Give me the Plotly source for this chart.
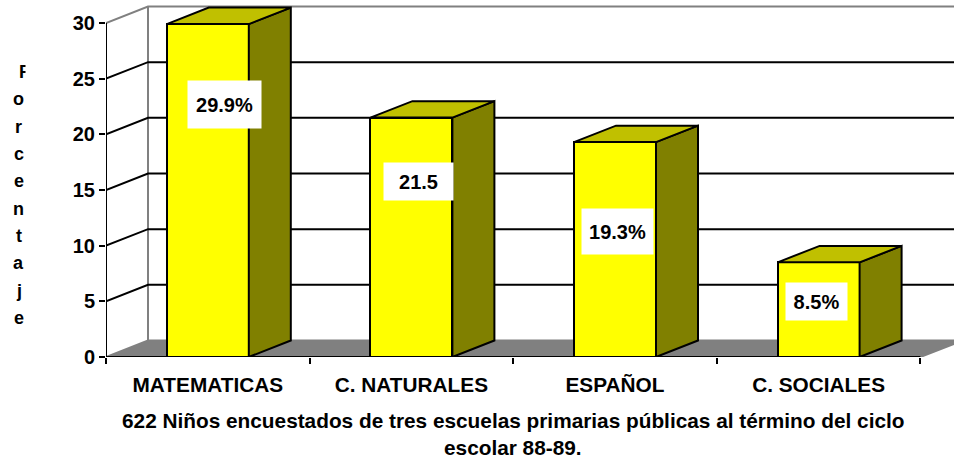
import plotly.graph_objects as go

categories = ["MATEMATICAS", "C. NATURALES", "ESPAÑOL", "C. SOCIALES"]
values = [29.9, 21.5, 19.3, 8.5]
value_labels = ["29.9%", "21.5", "19.3%", "8.5%"]
y_ticks = [0, 5, 10, 15, 20, 25, 30]
y_title_letters = list("Porcentaje")
title_lines = ["622 Niños encuestados de tres escuelas primarias públicas al término del ciclo",
               "escolar 88-89."]

# white label boxes in page pixels (left, top, right, bottom)
LABEL_BOXES = [(188, 81, 261, 128), (384, 163, 453, 200), (582, 209, 653, 254), (786, 283, 847, 320)]

W, H = 954, 459
ML, MB = 106, 101.5
PX_CAT = 203.6
PX_UNIT = 11.15
DX = 42 / PX_CAT
DY = 16.5 / PX_UNIT
BAR_W = 82 / PX_CAT
FS = 20
FS_WIDE = 20.8
FONT = "Liberation Sans"
n = len(categories)
xs = list(range(n))
xl, xr = -0.5, n - 0.5
range_x = [xl, xl + (W - ML) / PX_CAT]
plot_h = H - MB
range_y = [0, plot_h / PX_UNIT]

fig = go.Figure()
shapes = []

def path(px, py, close=False):
    d = "M " + " L ".join(f"{a} {b}" for a, b in zip(px, py))
    return d + (" Z" if close else "")

def back_poly(px, py, fill, line, lw=2):
    shapes.append(dict(type="path", path=path(px, py, True), xref="x", yref="y", layer="below",
                       fillcolor=fill, line=dict(color=line, width=lw)))

def back_seg(px, py, color, lw=2):
    shapes.append(dict(type="path", path=path(px, py), xref="x", yref="y", layer="below",
                       line=dict(color=color, width=lw)))

def poly(px, py, fill, line="black", lw=2):
    fig.add_trace(go.Scatter(x=px, y=py, mode="lines", fill="toself", fillcolor=fill,
                             line=dict(color=line, width=lw), hoverinfo="skip", showlegend=False))

def seg(px, py, color="black", lw=2):
    fig.add_trace(go.Scatter(x=px, y=py, mode="lines", line=dict(color=color, width=lw),
                             hoverinfo="skip", showlegend=False, cliponaxis=False))

# floor, back wall edge and gridlines sit behind the bars
back_poly([xl, xr, xr + DX, xl + DX], [0, 0, DY, DY], "#808080", "#808080")
back_seg([xl + DX, xl + DX], [DY, max(y_ticks) + DY], "#808080")
for t in y_ticks[1:]:
    c = "#808080" if t == max(y_ticks) else "black"
    back_seg([xl, xl + DX, range_x[1]], [t, t + DY, t + DY], c)

# bars
fig.add_trace(go.Bar(x=xs, y=values, width=BAR_W, marker=dict(color="#FFFF00", line=dict(color="black", width=2)),
                     hoverinfo="skip", showlegend=False))
for x, v in zip(xs, values):
    l, r = x - BAR_W / 2, x + BAR_W / 2
    poly([r, r + DX, r + DX, r, r], [0, DY, v + DY, v, 0], "#808000")
    poly([l, r, r + DX, l + DX, l], [v, v, v + DY, v + DY, v], "#C0C000")

# axes
seg([xl, xl], [0, max(y_ticks)], "black", 2)
seg([xl, xr], [0, 0], "black", 2)

anns = []
for box, t in zip(LABEL_BOXES, value_labels):
    x0, y0, x1, y1 = box
    anns.append(dict(xref="paper", yref="paper", x=((x0 + x1) / 2 - ML) / (W - ML), y=(plot_h - (y0 + y1) / 2) / plot_h,
                     xanchor="center", yanchor="middle", width=x1 - x0, height=y1 - y0, align="center", valign="middle",
                     text=t, showarrow=False, bgcolor="white", borderpad=0,
                     font=dict(family=FONT, size=FS, color="black", weight="bold")))
for i, ch in enumerate(y_title_letters):
    anns.append(dict(xref="paper", yref="paper", x=((25 if i == 0 else 18.7) - ML) / (W - ML),
                     y=(plot_h - (72 + 27.4 * i)) / plot_h,
                     xanchor="center", yanchor="middle", text=ch, showarrow=False,
                     font=dict(family=FONT, size=18, color="black", weight="bold")))
# the first letter is cut at its right side in the reference
anns.append(dict(xref="paper", yref="paper", x=(30 - ML) / (W - ML), y=(plot_h - 72) / plot_h,
                 xanchor="center", yanchor="middle", width=9, height=20, text=" ", showarrow=False,
                 bgcolor="white", borderpad=0, font=dict(family=FONT, size=10)))
for i, line in enumerate(title_lines):
    anns.append(dict(xref="paper", yref="paper", x=(513 - ML) / (W - ML), y=(plot_h - (421 + 27 * i)) / plot_h,
                     xanchor="center", yanchor="middle", text=line, showarrow=False,
                     font=dict(family=FONT, size=FS_WIDE, color="black", weight="bold")))

fig.update_layout(
    width=W, height=H, autosize=False, margin=dict(l=ML, r=0, t=0, b=MB),
    paper_bgcolor="white", plot_bgcolor="white", showlegend=False,
    annotations=anns, shapes=shapes, bargap=0,
    xaxis=dict(range=range_x, tickmode="array", tickvals=xs, ticktext=categories, ticks="", showgrid=False,
               zeroline=False, showline=False, ticklabelstandoff=13,
               minor=dict(tickmode="array", tickvals=[xl + i for i in range(n + 1)], ticks="outside", ticklen=6,
                          tickwidth=2, tickcolor="black", showgrid=False),
               tickfont=dict(family=FONT, size=FS_WIDE, color="black", weight="bold")),
    yaxis=dict(range=range_y, tickmode="array", tickvals=y_ticks, ticks="outside", ticklen=6, tickwidth=2,
               tickcolor="black", showgrid=False, zeroline=False, showline=False,
               tickfont=dict(family=FONT, size=FS, color="black", weight="bold")),
)
fig.write_html("out.html", config={"displayModeBar": False}, post_script="document.body.style.margin='0';")
